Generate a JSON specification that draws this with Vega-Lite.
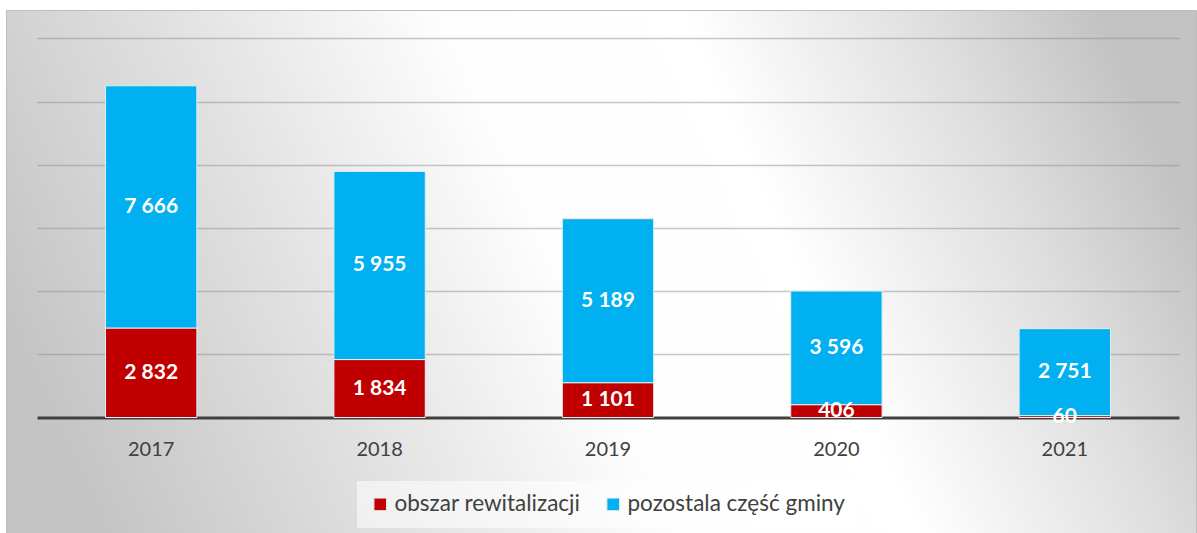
{
  "$schema": "https://vega.github.io/schema/vega-lite/v6.json",
  "width": 1190,
  "height": 523,
  "autosize": {"type": "none"},
  "padding": {"left": 6, "top": 10, "right": 1, "bottom": 0},
  "background": "#ffffff",
  "data": {
    "values": [
      {"year": "2017", "series": "obszar rewitalizacji", "value": 2832},
      {"year": "2017", "series": "pozostala część gminy", "value": 7666},
      {"year": "2018", "series": "obszar rewitalizacji", "value": 1834},
      {"year": "2018", "series": "pozostala część gminy", "value": 5955},
      {"year": "2019", "series": "obszar rewitalizacji", "value": 1101},
      {"year": "2019", "series": "pozostala część gminy", "value": 5189},
      {"year": "2020", "series": "obszar rewitalizacji", "value": 406},
      {"year": "2020", "series": "pozostala część gminy", "value": 3596},
      {"year": "2021", "series": "obszar rewitalizacji", "value": 60},
      {"year": "2021", "series": "pozostala część gminy", "value": 2751}
    ]
  },
  "encoding": {
    "x": {
      "field": "year",
      "type": "nominal",
      "scale": {"range": [31, 1173], "paddingInner": 0.6, "paddingOuter": 0.3},
      "axis": {
        "title": null,
        "orient": "bottom",
        "offset": -115.5,
        "labelAngle": 0,
        "labelFont": "Lato",
        "labelFontSize": 20,
        "labelColor": "#404040",
        "labelPadding": 22,
        "ticks": false,
        "domainColor": "#404040",
        "domainWidth": 3,
        "grid": false
      }
    },
    "y": {
      "field": "value",
      "type": "quantitative",
      "stack": "zero",
      "scale": {"domain": [-3655, 12896], "nice": false, "zero": false},
      "axis": {
        "title": null,
        "labels": false,
        "ticks": false,
        "domain": false,
        "grid": true,
        "values": [2000, 4000, 6000, 8000, 10000, 12000],
        "gridColor": "#909090",
        "gridOpacity": 0.5,
        "gridWidth": 1.4
      }
    },
    "order": {"field": "series", "type": "nominal", "sort": "ascending"}
  },
  "layer": [
    {
      "mark": {"type": "bar", "stroke": "#e4eef2", "strokeWidth": 1},
      "encoding": {
        "color": {
          "field": "series",
          "type": "nominal",
          "scale": {
            "domain": ["obszar rewitalizacji", "pozostala część gminy"],
            "range": ["#C00000", "#00B0F0"]
          },
          "legend": {
            "title": null,
            "orient": "none",
            "direction": "horizontal",
            "legendX": 351,
            "legendY": 471,
            "padding": 12,
            "fillColor": "rgba(255,255,255,0.55)",
            "symbolType": "square",
            "symbolSize": 160,
            "symbolStrokeWidth": 1,
            "labelFont": "Lato",
            "labelFontSize": 22.5,
            "labelLimit": 400,
            "labelColor": "#404040",
            "labelOffset": 3,
            "columnPadding": 21
          }
        }
      }
    },
    {
      "mark": {
        "type": "text",
        "color": "#ffffff",
        "font": "Lato",
        "fontSize": 21,
        "fontWeight": "bold",
        "baseline": "middle",
        "align": "center"
      },
      "encoding": {
        "y": {"field": "value", "type": "quantitative", "stack": "zero", "bandPosition": 0.5},
        "detail": {"field": "series", "type": "nominal"},
        "text": {"field": "value", "type": "quantitative", "format": ",d"}
      }
    }
  ],
  "config": {
    "locale": {
      "number": {"decimal": ",", "thousands": " ", "grouping": [3], "currency": ["", " zł"]}
    },
    "view": {
      "stroke": "#bdbdbd",
      "strokeWidth": 1,
      "fill": {
        "gradient": "linear",
        "x1": 0, "y1": 0.6, "x2": 1, "y2": 0.4,
        "stops": [
          {"offset": 0, "color": "#c4c4c4"},
          {"offset": 0.25, "color": "#e2e2e2"},
          {"offset": 0.46, "color": "#fdfdfd"},
          {"offset": 0.66, "color": "#ffffff"},
          {"offset": 0.86, "color": "#dedede"},
          {"offset": 1, "color": "#c2c2c2"}
        ]
      }
    }
  }
}
